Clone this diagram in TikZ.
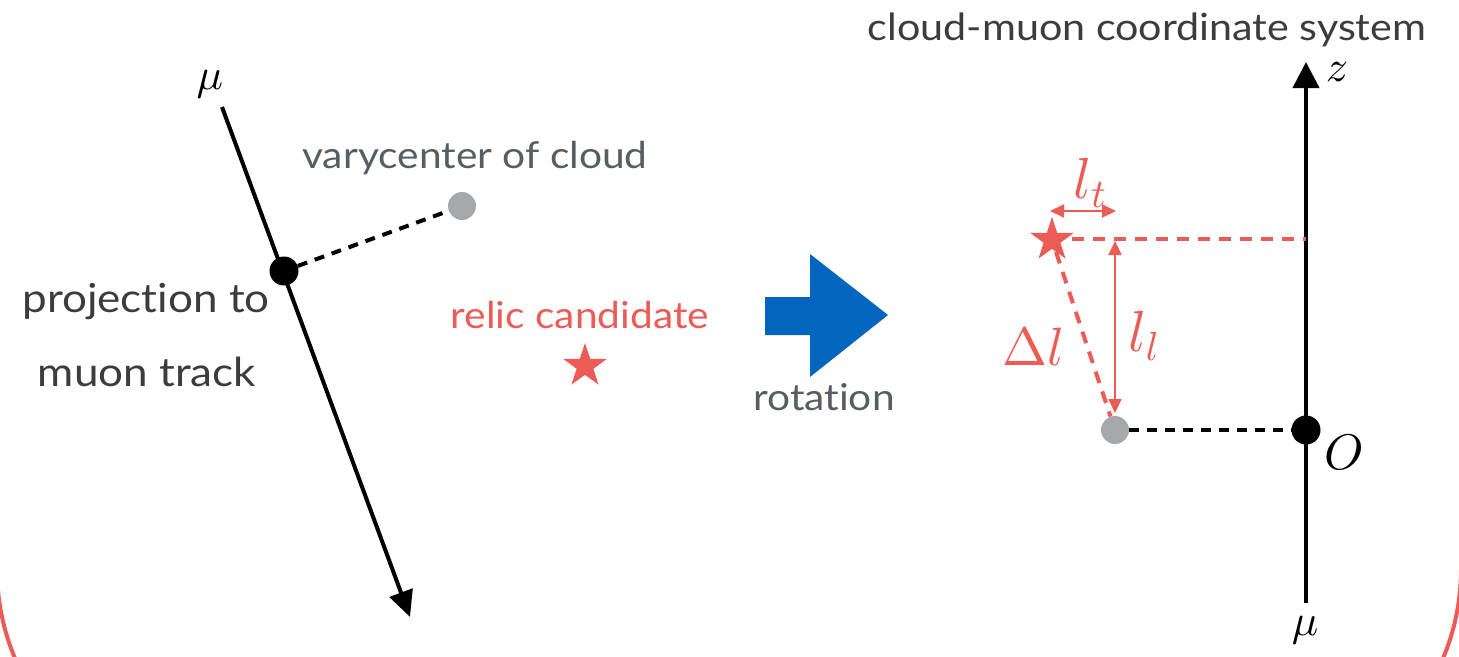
\documentclass[tikz,border=0pt]{standalone}
\usepackage{fontspec}
\setmainfont{Lato}[FakeStretch=1.1,Ligatures=NoCommon]
\DeclareFontFamily{OML}{mycmm}{\skewchar\font=127}
\DeclareFontShape{OML}{mycmm}{m}{it}{<->cmmi10}{}
\DeclareSymbolFont{letters}{OML}{mycmm}{m}{it}
\DeclareFontFamily{OMS}{mycmsy}{\skewchar\font=48}
\DeclareFontShape{OMS}{mycmsy}{m}{n}{<->cmsy10}{}
\DeclareSymbolFont{symbols}{OMS}{mycmsy}{m}{n}
\DeclareFontFamily{OT1}{mycmr}{}
\DeclareFontShape{OT1}{mycmr}{m}{n}{<->cmr10}{}
\usetikzlibrary{arrows.meta,shapes.geometric}
\definecolor{relic}{RGB}{236,92,87}
\definecolor{dotgray}{RGB}{166,169,169}
\definecolor{txtgray}{RGB}{88,93,100}
\definecolor{txtdark}{RGB}{60,60,60}
\definecolor{rotblue}{RGB}{2,101,190}
\tikzset{
  x=1pt,y=-1pt,
  blackdot/.style={circle,fill=black,inner sep=0pt,minimum size=29pt},
  graydot/.style={circle,fill=dotgray,inner sep=0pt,minimum size=28pt},
  relicstar/.style={star,star points=5,star point ratio=2.6,fill=relic,inner sep=0pt,minimum size=46pt},
  track/.style={line width=4pt,-{Triangle[length=26pt,width=24pt]}},
  blkdash/.style={line width=4pt,dash pattern=on 10pt off 8pt},
  reddash/.style={line width=4pt,draw=relic,dash pattern=on 12pt off 9pt},
  dimarrow/.style={line width=2pt,draw=relic,{Triangle[length=14pt,width=13pt]}-{Triangle[length=14pt,width=13pt]}},
  lbl/.style={font=\fontsize{37}{40}\selectfont,inner sep=0pt},
  biglbl/.style={font=\fontsize{40}{44}\selectfont,inner sep=0pt},
  mlbl/.style={inner sep=0pt},
}
\begin{document}
\begin{tikzpicture}
\useasboundingbox (0,0) rectangle (1459,656);
\begin{scope}
\clip (0,0) rectangle (1459,656);
\draw[relic,line width=4pt,rounded corners=230pt] (-3,-300) rectangle (1461,799);
\end{scope}
% left part
\coordinate (mutop) at (222,107);
\coordinate (mubot) at (410,617);
\draw[track] (mutop) -- (mubot);
\node[mlbl,font=\fontsize{44}{46}\selectfont] (mu1) at (210,84) {$\mu$};
\node[graydot] (c1) at (462,206) {};
\node[blackdot] (p1) at (284,271) {};
\draw[blkdash] (p1) -- (c1);
\node[lbl,text=txtgray] (vary) at (475,158) {varycenter of cloud};
\node[biglbl,text=txtdark] (proj) at (146,302) {projection to};
\node[biglbl,text=txtdark] (track) at (147,372) {muon track};
\node[lbl,text=relic] (relt) at (580,315) {relic candidate};
\node[relicstar] (s1) at (585,366) {};
% rotation arrow
\fill[rotblue] (765,297) -- (810,297) -- (810,254) -- (888,315) -- (810,377) -- (810,335) -- (765,335) -- cycle;
\node[lbl,text=txtgray] (rot) at (824,397) {rotation};
% right part
\node[font=\fontsize{37.5}{40}\selectfont,inner sep=0pt,text=txtdark] (title) at (1147,30) {cloud-muon coordinate system};
\coordinate (axbot) at (1306,603);
\coordinate (axtop) at (1306,62);
\draw[line width=4pt,-{Triangle[length=26pt,width=26pt]}] (axbot) -- (axtop);
\node[mlbl,font=\fontsize{44}{46}\selectfont] (z) at (1337,72) {$z$};
\node[mlbl,font=\fontsize{44}{46}\selectfont] (mu2) at (1305,630) {$\mu$};
\node[blackdot] (o) at (1306,430) {};
\node[mlbl,font=\fontsize{50}{52}\selectfont] (olbl) at (1344,452) {$O$};
\node[graydot] (c2) at (1115,430) {};
\draw[blkdash] (c2) -- (o);
\node[relicstar] (s2) at (1052,240) {};
\coordinate (axs) at (1306,239);
\draw[reddash] (1072,239) -- (axs);
\draw[reddash] (s2) -- (c2);
\coordinate (llt) at (1115,241);
\coordinate (llb) at (1115,413);
\draw[dimarrow] (llt) -- (llb);
\coordinate (ltl) at (1050,211);
\coordinate (ltr) at (1116,211);
\draw[dimarrow] (ltl) -- (ltr);
\node[mlbl,text=relic,font=\fontsize{58}{60}\selectfont] (lt) at (1090,183) {$l_t$};
\node[mlbl,text=relic,font=\fontsize{58}{60}\selectfont] (ll) at (1144,336) {$l_l$};
\node[mlbl,text=relic,font=\fontsize{54}{56}\selectfont] (dl) at (1034,347) {{\usefont{OT1}{mycmr}{m}{n}\char1}$l$};
\end{tikzpicture}
\end{document}
